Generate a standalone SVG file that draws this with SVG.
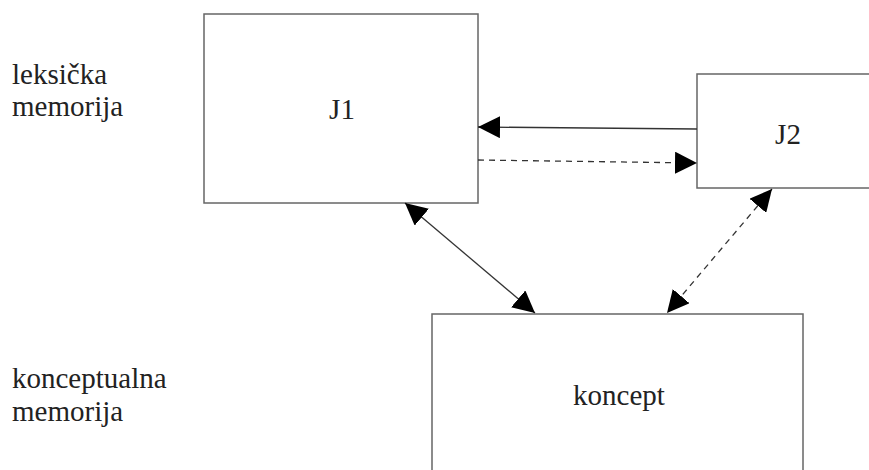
<svg xmlns="http://www.w3.org/2000/svg" width="869" height="470" viewBox="0 0 869 470">
<style>
.box{fill:#fff;stroke:#666;stroke-width:1.5}
.lbl{font-family:"Liberation Serif",serif;font-size:29px;fill:#222}
.c{stroke:#333;stroke-width:1.3;fill:none}
.d{stroke-dasharray:6 5}
</style>
<defs>
<marker id="ah" viewBox="0 0 22 22" refX="22" refY="11" markerWidth="22" markerHeight="22" markerUnits="userSpaceOnUse" orient="auto-start-reverse">
<path d="M0,0 L22,11 L0,22 Z" fill="#000"/>
</marker>
</defs>
<rect width="869" height="470" fill="#fff"/>
<text class="lbl" x="12" y="84">leksička</text>
<text class="lbl" x="12" y="116">memorija</text>
<text class="lbl" x="12" y="388">konceptualna</text>
<text class="lbl" x="12" y="421">memorija</text>
<g id="J1">
<rect class="box" x="204" y="14" width="274" height="189"/>
<text class="lbl" x="342" y="119" text-anchor="middle">J1</text>
</g>
<g id="J2">
<rect class="box" x="697" y="74" width="180" height="114"/>
<text class="lbl" x="788" y="144" text-anchor="middle">J2</text>
</g>
<g id="koncept">
<rect class="box" x="432" y="314" width="371" height="170"/>
<text class="lbl" x="619" y="405" text-anchor="middle">koncept</text>
</g>
<g id="connectors">
<line class="c" x1="697" y1="129" x2="478" y2="127" marker-end="url(#ah)"/>
<line class="c d" x1="478" y1="160" x2="697" y2="163" marker-end="url(#ah)"/>
<line class="c" x1="405" y1="203" x2="535" y2="313" marker-start="url(#ah)" marker-end="url(#ah)"/>
<line class="c d" x1="772" y1="189" x2="667" y2="313" marker-start="url(#ah)" marker-end="url(#ah)"/>
</g>
</svg>
